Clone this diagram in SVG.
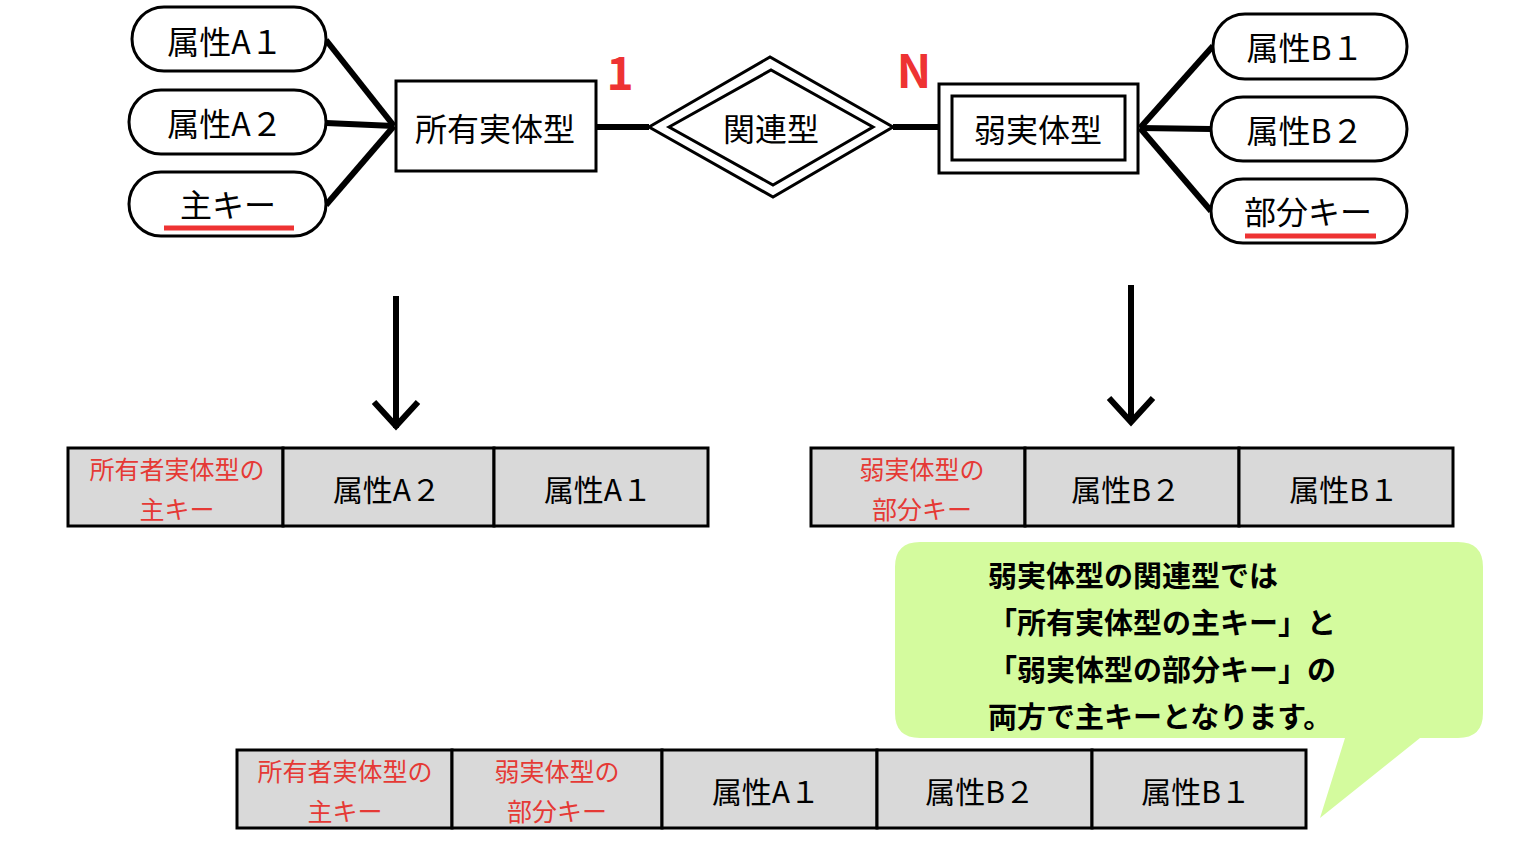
<svg xmlns="http://www.w3.org/2000/svg" width="1536" height="864" viewBox="0 0 1536 864">
<style>
text{font-family:"Noto Sans CJK JP","Noto Sans",sans-serif;text-anchor:middle;dominant-baseline:central}
.pill{fill:#fff;stroke:#000;stroke-width:3}
.box{fill:#fff;stroke:#000;stroke-width:3}
.t{font-size:32px}
.cell{fill:#d9d9d9;stroke:#000;stroke-width:3}
.ct{font-size:30px}
.red{fill:#e53935;font-size:25px}
.ln{stroke:#000;stroke-width:6;fill:none}
.ul{stroke:#ee3333;stroke-width:5}
.bt{font-size:29px;font-weight:bold;text-anchor:start}
</style>
<rect width="1536" height="864" fill="#fff"/>
<g id="connectors">
<line class="ln" x1="326" y1="40" x2="394" y2="126"/>
<line class="ln" x1="326" y1="123" x2="394" y2="126"/>
<line class="ln" x1="326" y1="205" x2="394" y2="126"/>
<line class="ln" x1="596" y1="127" x2="649" y2="127"/>
<line class="ln" x1="893" y1="127" x2="939" y2="127"/>
<line class="ln" x1="1140" y1="128" x2="1213" y2="46"/>
<line class="ln" x1="1140" y1="128" x2="1211" y2="129"/>
<line class="ln" x1="1140" y1="128" x2="1211" y2="211"/>
<line class="ln" x1="396" y1="296" x2="396" y2="428" stroke-width="9"/>
<polyline class="ln" points="374,402 396,426 418,402" stroke-width="9"/>
<line class="ln" x1="1131" y1="285" x2="1131" y2="423" stroke-width="9"/>
<polyline class="ln" points="1109,398 1131,422 1153,398" stroke-width="9"/>
</g>
<g id="attrA1"><rect class="pill" x="132" y="7" width="194" height="64" rx="32"/><text class="t" x="225" y="40">属性A１</text></g>
<g id="attrA2"><rect class="pill" x="129" y="90" width="197" height="64" rx="32"/><text class="t" x="225" y="122">属性A２</text></g>
<g id="keyA"><rect class="pill" x="129" y="172" width="197" height="64" rx="32"/><text class="t" x="228" y="203">主キー</text><line class="ul" x1="164" y1="228" x2="294" y2="228"/></g>
<g id="owner"><rect class="box" x="396" y="81" width="200" height="90"/><text class="t" x="495" y="127">所有実体型</text></g>
<g id="rel"><polygon points="649,127 770,57 893,127 773,197" fill="#fff" stroke="#000" stroke-width="3"/><polygon points="669,127 771,70 873,127 773,185" fill="none" stroke="#000" stroke-width="3"/><text class="t" x="771" y="127">関連型</text></g>
<g id="card1"><text x="620" y="70" font-size="46" font-weight="bold" fill="#ee3333" font-family="Liberation Sans,sans-serif">1</text></g>
<g id="cardN"><text x="914" y="68" font-size="46" font-weight="bold" fill="#ee3333" font-family="Liberation Sans,sans-serif">N</text></g>
<g id="weak"><rect class="box" x="939" y="84" width="199" height="89"/><rect class="box" x="952" y="96" width="173" height="64"/><text class="t" x="1038" y="128">弱実体型</text></g>
<g id="attrB1"><rect class="pill" x="1213" y="14" width="194" height="65" rx="32"/><text class="t" x="1305" y="46">属性B１</text></g>
<g id="attrB2"><rect class="pill" x="1211" y="97" width="196" height="64" rx="32"/><text class="t" x="1305" y="129">属性B２</text></g>
<g id="keyB"><rect class="pill" x="1211" y="179" width="196" height="64" rx="32"/><text class="t" x="1308" y="210">部分キー</text><line class="ul" x1="1245" y1="236" x2="1376" y2="236"/></g>
<g id="tableA">
<rect class="cell" x="68" y="448" width="215" height="78"/><rect class="cell" x="283" y="448" width="211" height="78"/><rect class="cell" x="494" y="448" width="214" height="78"/>
<text class="red" x="177" y="468">所有者実体型の</text><text class="red" x="177" y="508">主キー</text>
<text class="ct" x="387" y="488">属性A２</text><text class="ct" x="598" y="488">属性A１</text>
</g>
<g id="tableB">
<rect class="cell" x="811" y="448" width="214" height="78"/><rect class="cell" x="1025" y="448" width="214" height="78"/><rect class="cell" x="1239" y="448" width="214" height="78"/>
<text class="red" x="922" y="468">弱実体型の</text><text class="red" x="922" y="508">部分キー</text>
<text class="ct" x="1126" y="488">属性B２</text><text class="ct" x="1344" y="488">属性B１</text>
</g>
<g id="bubble">
<path d="M920,542 H1458 Q1483,542 1483,567 V713 Q1483,738 1458,738 H1420 L1320,818 L1345,738 H920 Q895,738 895,713 V567 Q895,542 920,542 Z" fill="#d4fb9e"/>
<text class="bt" x="988" y="574">弱実体型の関連型では</text>
<text class="bt" x="988" y="621">「所有実体型の主キー」と</text>
<text class="bt" x="988" y="668">「弱実体型の部分キー」の</text>
<text class="bt" x="988" y="715">両方で主キーとなります。</text>
</g>
<g id="tableC">
<rect class="cell" x="237" y="750" width="215" height="78"/><rect class="cell" x="452" y="750" width="210" height="78"/><rect class="cell" x="662" y="750" width="215" height="78"/><rect class="cell" x="877" y="750" width="215" height="78"/><rect class="cell" x="1092" y="750" width="214" height="78"/>
<text class="red" x="345" y="770">所有者実体型の</text><text class="red" x="345" y="810">主キー</text>
<text class="red" x="557" y="770">弱実体型の</text><text class="red" x="557" y="810">部分キー</text>
<text class="ct" x="766" y="790">属性A１</text><text class="ct" x="980" y="790">属性B２</text><text class="ct" x="1196" y="790">属性B１</text>
</g>
</svg>
